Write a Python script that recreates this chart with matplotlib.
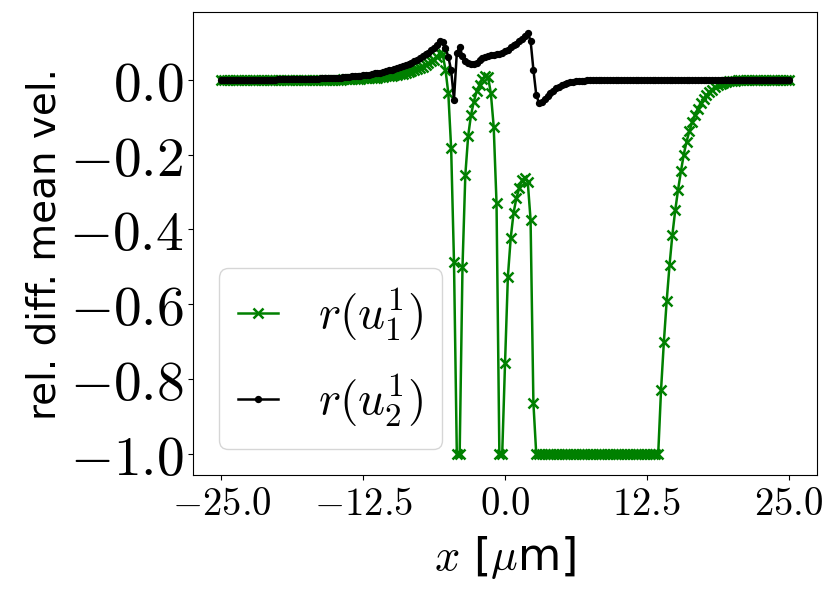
import numpy as np
import matplotlib
matplotlib.use('Agg')
import matplotlib.pyplot as plt
from matplotlib.ticker import FuncFormatter

plt.rcParams['mathtext.fontset'] = 'cm'
plt.rcParams['font.family'] = 'DejaVu Sans'

# grid in micrometres, step 0.25
x = np.linspace(-25, 25, 201)

# r(u_1^1), green
u1 = ([0.0] * 43                                                   # -25.0 .. -14.5
      + [0.002, 0.002, 0.002, 0.002, 0.003, 0.003, 0.003, 0.004, 0.004, 0.004,
         0.005, 0.006, 0.006, 0.007, 0.008, 0.009, 0.010, 0.011, 0.012, 0.013,
         0.015, 0.016, 0.018, 0.020, 0.023, 0.025, 0.028, 0.031, 0.035, 0.039,
         0.044, 0.049, 0.054, 0.062, 0.072, 0.068, 0.027]           # -14.25 .. -5.25
      + [-0.036, -0.183, -0.486, -1.0, -1.0, -0.50, -0.254, -0.150, -0.094, -0.058,
         -0.031, -0.013, 0.003, 0.010, 0.008, -0.036, -0.125, -0.330, -1.0, -1.0,
         -0.757, -0.526, -0.423, -0.356, -0.316, -0.290, -0.268, -0.262, -0.272,
         -0.374, -0.864]                                            # -5.0 .. 2.5
      + [-1.0] * 44                                                 # 2.75 .. 13.5
      + [-0.829, -0.700, -0.590, -0.495, -0.414, -0.349, -0.294, -0.245, -0.200,
         -0.165, -0.137, -0.113, -0.093, -0.077, -0.063, -0.051, -0.041, -0.033,
         -0.026, -0.020, -0.015, -0.011, -0.008, -0.006, -0.004, -0.003, -0.002,
         -0.001]                                                    # 13.75 .. 20.5
      + [0.0] * 18)                                                 # 20.75 .. 25.0

# r(u_2^1), black
u2 = ([0.0] * 20                                                   # -25.0 .. -20.25
      + [0.001, 0.001, 0.001, 0.002, 0.002, 0.002, 0.002, 0.002]   # -20.0 .. -18.25
      + [0.002, 0.002, 0.003, 0.003, 0.003, 0.003, 0.003, 0.004, 0.004, 0.004,
         0.005, 0.005, 0.006, 0.006, 0.006, 0.007, 0.008, 0.008, 0.009, 0.010,
         0.010, 0.011, 0.012, 0.013, 0.014, 0.015, 0.017, 0.018, 0.019, 0.021,
         0.023, 0.025, 0.027, 0.029, 0.031, 0.034, 0.036, 0.039, 0.042, 0.046,
         0.050, 0.054, 0.058, 0.063, 0.068, 0.073, 0.079, 0.086]   # -18.0 .. -6.25
      + [0.093, 0.103, 0.100, 0.085]                               # -6.0 .. -5.25
      + [0.062, 0.025, -0.053, 0.072, 0.088, 0.063, 0.050, 0.044, 0.041, 0.043,
         0.046, 0.052, 0.057, 0.062, 0.064, 0.066, 0.066, 0.068, 0.070, 0.072,
         0.076, 0.081, 0.088, 0.092, 0.095, 0.103, 0.110, 0.118, 0.125, 0.105,
         0.027, -0.040, -0.063, -0.060, -0.052, -0.044, -0.036, -0.029, -0.023,
         -0.018, -0.014, -0.011, -0.009, -0.007, -0.005, -0.004, -0.003, -0.002,
         -0.002, -0.001, -0.001, -0.001]                            # -5.0 .. 7.75
      + [0.0] * 69)                                                 # 8.0 .. 25.0

xticks = [-25.0, -12.5, 0.0, 12.5, 25.0]
yticks = [0.0, -0.2, -0.4, -0.6, -0.8, -1.0]

fig = plt.figure(figsize=(8.31, 5.94), dpi=100)
ax = fig.add_axes([0.2323, 0.2003, 0.7509, 0.7795])

ax.plot(x, u1, color='green', marker='x', ms=7.5, mew=1.8, lw=1.8, label=r'$r(u_1^1)$')
ax.plot(x, u2, color='black', marker='.', ms=8.5, lw=1.8, label=r'$r(u_2^1)$')

ax.set_xticks(xticks)
ax.set_yticks(yticks)
ax.xaxis.set_major_formatter(FuncFormatter(lambda v, p: r'$%.1f$' % v))
ax.yaxis.set_major_formatter(FuncFormatter(lambda v, p: r'$%.1f$' % v))
ax.tick_params(axis='x', labelsize=28)
ax.tick_params(axis='y', labelsize=40)

ax.set_xlabel(r'$x$ [$\mu$m]', fontsize=32, labelpad=8)
ax.set_ylabel('rel. diff. mean vel.', fontsize=28)

ax.legend(loc='lower left', fontsize=34, handlelength=0.85, handletextpad=0.85,
          labelspacing=0.6, borderaxespad=0.55)

fig.savefig('out.png', dpi=100)
